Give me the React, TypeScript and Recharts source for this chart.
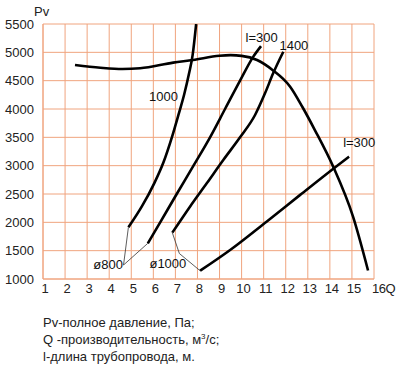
import React from 'react';
import { LineChart, Line, XAxis, YAxis, CartesianGrid, ReferenceDot } from 'recharts';

// Fan curve Pv(Q)
const fanQ = [2.45, 3.6, 4.6, 5.4, 6.9, 7.8, 9.0, 9.5, 10.0, 10.7, 11.4, 12.2, 12.75, 13.32, 14.15, 15.05, 15.73];
const fanPv = [4777, 4729, 4706, 4718, 4818, 4865, 4940, 4950, 4938, 4865, 4690, 4394, 4040, 3629, 2983, 2100, 1150];

// ø800, l=1000
const d800l1000Q = [4.87, 5.48, 6.04, 6.46, 6.84, 7.14, 7.4, 7.62, 7.78, 7.94];
const d800l1000Pv = [1912, 2280, 2688, 3060, 3500, 3900, 4260, 4629, 4950, 5500];

// ø800, l=300
const d800l300Q = [5.75, 6.31, 7.06, 7.82, 8.57, 9.25, 9.93, 10.53, 10.88];
const d800l300Pv = [1630, 2000, 2500, 3000, 3500, 4000, 4500, 4924, 5110];

// ø1000, l=1400
const d1000l1400Q = [6.86, 7.66, 8.42, 9.17, 9.93, 10.61, 11.06, 11.43, 11.89];
const d1000l1400Pv = [1818, 2277, 2689, 3100, 3500, 3894, 4276, 4629, 5010];

// ø1000, l=300
const d1000l300Q = [8.12, 9.48, 11.13, 12.64, 14.2, 14.87];
const d1000l300Pv = [1146, 1512, 2012, 2480, 2960, 3160];

// leader lines
const lead800Q = [4.87, 4.65, 5.75];
const lead800Pv = [1912, 1247, 1630];
const lead1000Q = [6.86, 7.18, 8.12];
const lead1000Pv = [1818, 1450, 1146];

const xTicks = [1, 2, 3, 4, 5, 6, 7, 8, 9, 10, 11, 12, 13, 14, 15, 16];
const yTicks = [1000, 1500, 2000, 2500, 3000, 3500, 4000, 4500, 5000, 5500];

const labels = [
  { x: 6.46, y: 4217, text: '1000' },
  { x: 10.91, y: 5262, text: 'l=300' },
  { x: 12.37, y: 5130, text: '1400' },
  { x: 15.33, y: 3403, text: 'l=300' },
  { x: 3.95, y: 1252, text: 'ø800' },
  { x: 6.66, y: 1270, text: 'ø1000' },
];

const captions = ['Pv-полное давление, Па;', 'Q -производительность, м', 'l-длина трубопровода, м.'];

const zip = (q: number[], p: number[]) => q.map((x, i) => ({ x, y: p[i] }));

const FONT = '"Liberation Sans", Arial, sans-serif';
const GRID = '#f0a47e';
const TXT = '#222';

const XTick = (props: any) => {
  const { x, y, payload } = props;
  const v = payload.value;
  const last = v === 16;
  return (
    <text
      x={last ? x - 2 : x + 2}
      y={y}
      dy="0.71em"
      textAnchor={last ? 'start' : 'middle'}
      fontSize={13}
      fontFamily={FONT}
      fill={TXT}
      letterSpacing={last ? -0.5 : 0}
    >
      {last ? '16Q' : String(v)}
    </text>
  );
};

export default function App() {
  const series = [
    zip(fanQ, fanPv),
    zip(d800l1000Q, d800l1000Pv),
    zip(d800l300Q, d800l300Pv),
    zip(d1000l1400Q, d1000l1400Pv),
    zip(d1000l300Q, d1000l300Pv),
  ];
  return (
    <div style={{ position: 'absolute', left: 0, top: 0, width: 400, height: 368, fontFamily: FONT, overflow: 'hidden' }}>
      <div style={{ position: 'absolute', left: 0, top: 0 }}>
        <LineChart
          width={400}
          height={300}
          margin={{ top: 24, right: 26, left: 0, bottom: 1 }}
          style={{ overflow: 'visible' }}
        >
          <CartesianGrid stroke={GRID} strokeWidth={1} />
          <XAxis
            type="number"
            dataKey="x"
            domain={[1, 16]}
            ticks={xTicks}
            interval={0}
            minTickGap={0}
            allowDataOverflow
            axisLine={{ stroke: GRID }}
            tickLine={false}
            tickSize={0}
            tickMargin={5}
            height={20}
            tick={(p: any) => <XTick {...p} />}
          />
          <YAxis
            type="number"
            dataKey="y"
            domain={[1000, 5500]}
            ticks={yTicks}
            interval={0}
            allowDataOverflow
            axisLine={{ stroke: GRID }}
            tickLine={false}
            tickSize={0}
            tickMargin={9}
            width={43}
            tick={{ fontSize: 13, fill: TXT, fontFamily: FONT }}
          />
          {series.map((d, i) => (
            <Line
              key={i}
              data={d}
              dataKey="y"
              type="monotone"
              stroke="#000"
              strokeWidth={2.6}
              dot={false}
              activeDot={false}
              isAnimationActive={false}
            />
          ))}
          <Line data={zip(lead800Q, lead800Pv)} dataKey="y" type="linear" stroke="#333" strokeWidth={0.8} dot={false} activeDot={false} isAnimationActive={false} />
          <Line data={zip(lead1000Q, lead1000Pv)} dataKey="y" type="linear" stroke="#333" strokeWidth={0.8} dot={false} activeDot={false} isAnimationActive={false} />
          {labels.map((l, i) => (
            <ReferenceDot
              key={'l' + i}
              x={l.x}
              y={l.y}
              r={0}
              fill="none"
              stroke="none"
              ifOverflow="visible"
              label={{ value: l.text, position: 'center', fontSize: 13, fill: '#111', fontFamily: FONT }}
            />
          ))}
        </LineChart>
      </div>
      <div style={{ position: 'absolute', left: 34, top: 4, fontSize: 13, lineHeight: '15px', color: TXT }}>Pv</div>
      <div style={{ position: 'absolute', left: 43, top: 315, fontSize: 13, lineHeight: '15px', color: TXT, whiteSpace: 'nowrap' }}>{captions[0]}</div>
      <div style={{ position: 'absolute', left: 43, top: 332, fontSize: 13, lineHeight: '15px', color: TXT, whiteSpace: 'nowrap' }}>
        {captions[1]}
        <span style={{ fontSize: 8, position: 'relative', top: -5 }}>3</span>/с;
      </div>
      <div style={{ position: 'absolute', left: 43, top: 349, fontSize: 13, lineHeight: '15px', color: TXT, whiteSpace: 'nowrap' }}>{captions[2]}</div>
    </div>
  );
}
